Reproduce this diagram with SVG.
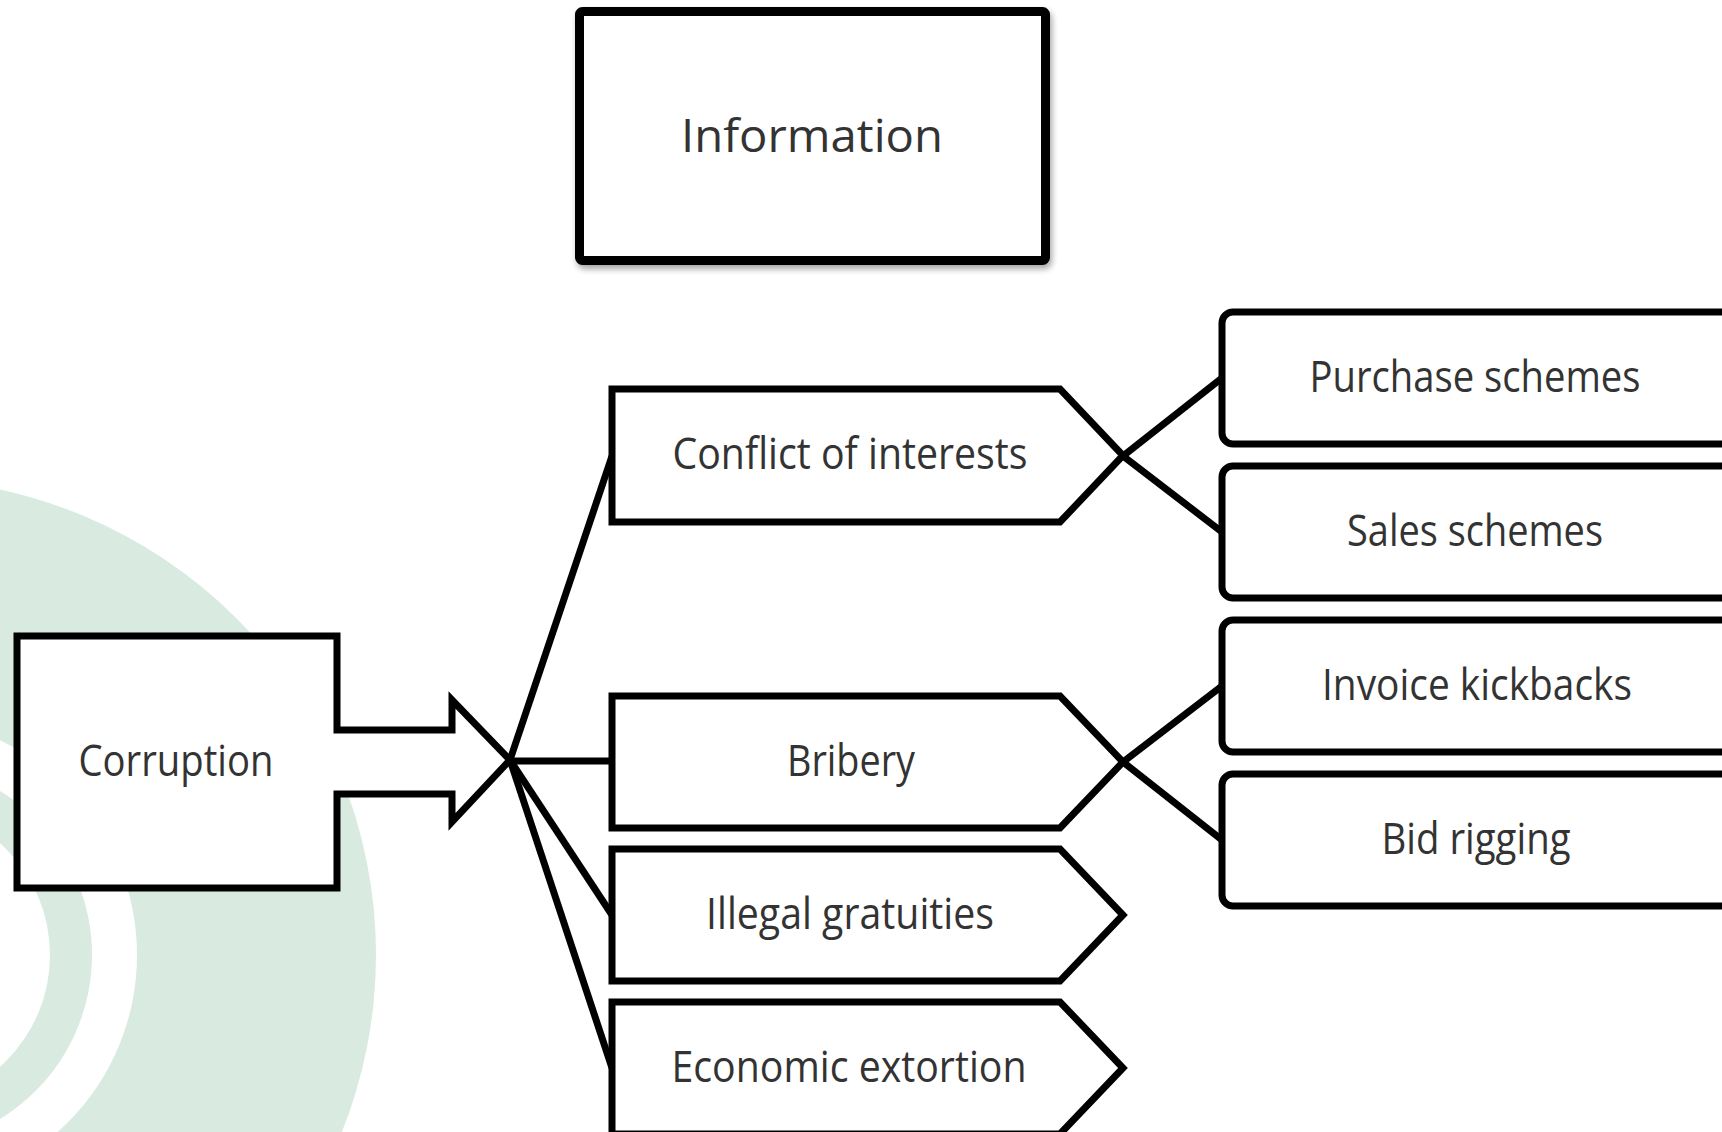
<svg xmlns="http://www.w3.org/2000/svg" width="1722" height="1132" viewBox="0 0 1722 1132">
  <defs>
    <style>
      .box { fill: #ffffff; stroke: #000000; stroke-width: 7; stroke-linejoin: miter; }
      .rbox { fill: #ffffff; stroke: #000000; stroke-width: 7; }
      .link { stroke: #000000; stroke-width: 7; fill: none; stroke-linecap: butt; }
      .lbl { font-family: "Open Sans", "Noto Sans", "Liberation Sans", sans-serif; font-size: 43px; fill: #333333; text-anchor: middle; }
      .title { font-size: 46px; }
    </style>
    <filter id="shadow" x="-5%" y="-5%" width="115%" height="120%">
      <feGaussianBlur in="SourceAlpha" stdDeviation="3"/>
      <feOffset dx="2" dy="4" result="off"/>
      <feComponentTransfer><feFuncA type="linear" slope="0.35"/></feComponentTransfer>
      <feMerge><feMergeNode/><feMergeNode in="SourceGraphic"/></feMerge>
    </filter>
  </defs>

  <rect width="1722" height="1132" fill="#ffffff"/>

  <!-- background rings -->
  <g id="background">
    <circle cx="-100" cy="955" r="476" fill="#d9ebe1"/>
    <circle cx="-100" cy="955" r="237" fill="#ffffff"/>
    <circle cx="-100" cy="955" r="192" fill="#d9ebe1"/>
    <circle cx="-100" cy="955" r="150" fill="#ffffff"/>
  </g>

  <!-- connectors -->
  <g id="connectors">
    <line class="link" x1="510" y1="760" x2="612" y2="456"/>
    <line class="link" x1="510" y1="761" x2="612" y2="761"/>
    <line class="link" x1="510" y1="760" x2="612" y2="915"/>
    <line class="link" x1="510" y1="760" x2="612" y2="1068"/>
    <line class="link" x1="1123" y1="456" x2="1222" y2="378"/>
    <line class="link" x1="1123" y1="456" x2="1222" y2="532"/>
    <line class="link" x1="1123" y1="762" x2="1222" y2="686"/>
    <line class="link" x1="1123" y1="762" x2="1222" y2="840"/>
  </g>

  <g id="information">
    <rect x="579.5" y="11.5" width="466" height="249" rx="3" fill="#ffffff" stroke="#000000" stroke-width="9" filter="url(#shadow)"/>
    <text class="lbl title" x="812" y="152" textLength="262" lengthAdjust="spacingAndGlyphs">Information</text>
  </g>

  <g id="corruption">
    <path class="box" d="M17,636 H337 V730 H452 V700 L510,760 L452,822 V794 H337 V888 H17 Z"/>
    <text class="lbl" x="176" y="776" textLength="195" lengthAdjust="spacingAndGlyphs">Corruption</text>
  </g>

  <g id="conflict-of-interests">
    <path class="box" d="M612,389 H1060 L1123,455.5 L1060,522 H612 Z"/>
    <text class="lbl" x="850" y="469" textLength="355" lengthAdjust="spacingAndGlyphs">Conflict of interests</text>
  </g>

  <g id="bribery">
    <path class="box" d="M612,696 H1060 L1123,762 L1060,828 H612 Z"/>
    <text class="lbl" x="851" y="776" textLength="128" lengthAdjust="spacingAndGlyphs">Bribery</text>
  </g>

  <g id="illegal-gratuities">
    <path class="box" d="M612,849 H1060 L1123,915 L1060,981 H612 Z"/>
    <text class="lbl" x="850" y="929" textLength="288" lengthAdjust="spacingAndGlyphs">Illegal gratuities</text>
  </g>

  <g id="economic-extortion">
    <path class="box" d="M612,1002 H1060 L1123,1068 L1060,1134 H612 Z"/>
    <text class="lbl" x="849" y="1082" textLength="355" lengthAdjust="spacingAndGlyphs">Economic extortion</text>
  </g>

  <g id="purchase-schemes">
    <rect class="rbox" x="1222" y="312" width="600" height="132" rx="11"/>
    <text class="lbl" x="1475" y="392" textLength="331" lengthAdjust="spacingAndGlyphs">Purchase schemes</text>
  </g>

  <g id="sales-schemes">
    <rect class="rbox" x="1222" y="466" width="600" height="132" rx="11"/>
    <text class="lbl" x="1475" y="546" textLength="256" lengthAdjust="spacingAndGlyphs">Sales schemes</text>
  </g>

  <g id="invoice-kickbacks">
    <rect class="rbox" x="1222" y="620" width="600" height="132" rx="11"/>
    <text class="lbl" x="1477" y="700" textLength="310" lengthAdjust="spacingAndGlyphs">Invoice kickbacks</text>
  </g>

  <g id="bid-rigging">
    <rect class="rbox" x="1222" y="774" width="600" height="132" rx="11"/>
    <text class="lbl" x="1476" y="854" textLength="189" lengthAdjust="spacingAndGlyphs">Bid rigging</text>
  </g>
</svg>
